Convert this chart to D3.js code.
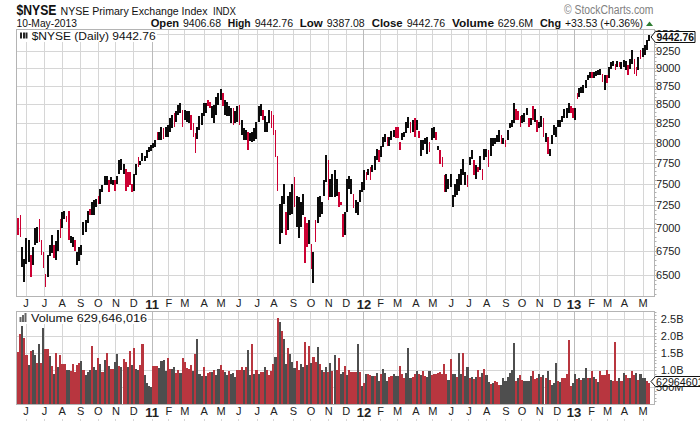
<!DOCTYPE html>
<html>
<head>
<script src="https://cdn.jsdelivr.net/npm/d3@7"></script>
<style>
	html, body { padding: 0; margin: 0; background: #fff; }
	svg { display: block; font-family: "Liberation Sans", Arial, sans-serif; }
	.axis path { display: none; }
</style>
</head>
<body>
<script>
var highs = [
	7110,7140,6790,6660,6890,6860,6700,6790,6990,7010,
	7090,6860,6740,6510,6700,6810,6915,6810,6850,6970,
	7090,7170,7190,7130,7190,6910,6895,6860,6740,6790,
	6810,7060,7080,7190,7210,7290,7305,7320,7360,7440,
	7480,7590,7590,7540,7580,7540,7545,7590,7790,7800,
	7735,7680,7640,7640,7500,7620,7735,7820,7775,7875,
	7830,7910,7950,7970,8000,8040,8135,8140,8205,8185,
	8205,8230,8315,8360,8380,8405,8490,8520,8425,8425,
	8405,8405,8360,8250,8120,8205,8340,8380,8515,8520,
	8560,8535,8470,8490,8600,8645,8710,8645,8560,8535,
	8470,8450,8450,8405,8470,8490,8295,8185,8160,8130,
	8120,8140,8185,8270,8470,8505,8425,8340,8270,8425,
	8405,8360,8160,7830,7270,7360,7500,7175,7360,7400,
	7500,7580,7360,7345,7290,7380,7115,7045,7080,6825,
	6740,7080,7345,7360,7290,7540,7845,7785,7555,7620,
	7660,7555,7400,7290,7150,7175,7555,7590,7560,7385,
	7310,7290,7425,7520,7660,7640,7680,7700,7720,7840,
	7925,7905,7965,8075,8105,8075,8075,8155,8165,8205,
	8205,8010,8120,8140,8270,8330,8270,8295,8315,8295,
	8155,8030,8030,8055,8075,8010,8185,8205,8140,7955,
	7905,7820,7600,7620,7560,7620,7365,7500,7560,7620,
	7680,7800,7640,7600,7820,7905,7780,7720,7700,7840,
	7680,7925,7925,7905,8055,8055,8055,8095,8165,8095,
	8065,8030,8165,8250,8295,8520,8430,8410,8340,8360,
	8385,8450,8315,8315,8480,8430,8295,8270,8340,8315,
	8120,8075,7925,8095,8230,8205,8295,8295,8340,8430,
	8450,8520,8470,8450,8450,8645,8715,8735,8760,8830,
	8900,8945,8945,8945,8955,8965,8990,8920,8900,8900,
	9015,9085,9095,9060,9095,9085,9085,9110,9095,9040,
	9130,9255,9130,9015,9155,9255,9280,9330,9410,9475
];
var lows = [
	6915,6900,6580,6430,6610,6630,6480,6600,6810,6830,
	6840,6700,6570,6370,6480,6690,6720,6670,6650,6750,
	6890,6990,7100,7060,6860,6830,6790,6750,6600,6640,
	6700,6915,6950,7050,7140,7140,7140,7230,7270,7270,
	7400,7480,7480,7400,7500,7480,7420,7500,7620,7660,
	7620,7420,7460,7480,7400,7420,7600,7700,7720,7775,
	7775,7815,7890,7900,7930,7950,8030,8030,8030,8050,
	8075,8075,8140,8185,8205,8270,8360,8380,8205,8295,
	8270,8250,8160,8075,7870,8050,8160,8230,8340,8380,
	8470,8450,8315,8250,8360,8490,8560,8470,8360,8340,
	8340,8250,8230,8250,8270,8230,8095,8030,8030,7910,
	8020,8010,8020,8050,8270,8340,8295,8140,8140,8250,
	8185,8095,7820,7420,6825,6935,7270,6915,6970,7140,
	7150,7230,7010,6890,7010,7140,6620,6790,6825,6560,
	6410,6840,7045,7115,7150,7360,7520,7305,7345,7345,
	7345,7360,7230,7250,6895,6915,7175,7440,7385,7215,
	7160,7145,7290,7405,7425,7540,7600,7540,7640,7660,
	7780,7760,7820,7945,8010,7965,7965,8030,8075,8055,
	8055,7905,8030,8075,8120,8185,8120,8140,8075,8165,
	8055,7840,7905,7990,7860,7885,8030,8055,8030,7905,
	7735,7700,7400,7400,7440,7460,7225,7345,7365,7420,
	7480,7600,7480,7460,7720,7800,7600,7560,7640,7660,
	7540,7780,7820,7700,7840,7965,7990,8010,8010,7990,
	7990,7945,8030,8185,8205,8250,8295,8295,8205,8250,
	8270,8360,8205,8230,8295,8270,8140,8185,8205,8075,
	8010,7860,7830,7990,8095,8075,8205,8205,8270,8315,
	8315,8385,8385,8315,8295,8570,8600,8645,8645,8715,
	8830,8855,8855,8855,8885,8900,8900,8805,8695,8785,
	8855,8990,9025,8965,9015,9015,8990,9015,8965,8900,
	8990,9060,8920,8885,8965,9130,9155,9185,9260,9385
];
var downBars = [
	0,1,6,10,11,12,13,17,20,23,24,27,34,38,43,46,51,52,53,54,57,66,69,74,78,
	82,83,84,90,91,97,102,105,109,116,120,121,122,123,127,131,136,137,139,141,
	147,152,153,154,159,165,167,171,175,179,180,181,186,188,190,195,198,200,
	201,202,213,216,218,220,223,229,231,236,237,238,242,244,246,249,251,262,
	263,265,272,277,279,283,285,289,292,293,295
];

// volume in millions, colour per bar: r = down session, k = up session
var volumes = [
	1520,2050,2290,1950,1440,1150,1570,1590,1450,1200,
	1780,1200,2230,1610,1610,1410,1120,900,1500,1080,
	1440,1170,1190,1000,1020,980,1170,950,1150,1210,
	1260,1000,870,950,1000,1720,1100,1020,1350,1170,
	960,1310,1500,1130,1040,1050,1240,1480,1130,1080,
	1340,1240,1090,1570,1150,1640,1050,1020,1150,1770,
	850,630,540,510,1110,1120,1120,1060,1270,1310,
	980,1370,1050,1030,1090,910,1020,930,1350,1250,
	1070,1030,1160,990,1460,1900,900,820,1100,830,
	930,950,960,1000,870,1030,1150,1020,940,860,
	970,880,920,790,1000,1020,1080,1000,1100,1600,
	860,1770,900,1010,900,950,950,1090,1000,850,
	980,1190,1390,2530,2400,2150,1900,1180,1640,1480,
	1250,1070,1270,1000,1180,1080,1810,1150,1710,1200,
	1390,1250,1670,1190,1010,940,1080,960,1200,970,
	1450,1000,1360,900,950,1130,860,1000,960,960,
	940,1770,950,540,620,880,880,870,840,830,
	920,700,890,1030,920,700,800,820,900,830,
	820,1130,900,770,930,1640,780,800,880,980,
	880,850,970,820,800,980,850,880,880,930,
	950,900,1170,880,720,1340,880,880,800,1510,
	880,1490,820,1090,760,800,750,800,1000,800,
	930,1030,860,650,600,640,700,660,560,560,
	760,700,790,910,1000,1800,700,760,860,720,
	680,680,700,820,970,740,770,880,800,860,
	760,980,720,560,640,1200,680,660,780,780,
	880,1880,530,620,880,750,760,720,760,1070,
	760,760,980,800,740,660,980,870,870,1000,
	880,720,700,1830,700,780,700,920,860,770,
	780,980,860,910,720,900,760,780,700,630
];
var volumeColors =
	"rrkrrkrkkr" + "krkrrkrkrk" + "rrrkkrrrrr" + "krkkkrkkrk" + "rkrkrrkkrk" +
	"rrkrkrkkrr" + "kkkkrrrkkk" + "krrkkrrkrr" + "rrrkrkkkrk" + "rrkrkkrrkk" +
	"rkkkrrrkrk" + "krkrkrrkrr" + "rrkrkrkkrk" + "kkrrkkrkrk" + "rrkrkrkrkr" +
	"krrkkrkrrr" + "rkrkrkrrkr" + "kkrkkkrrkk" + "krrrkkkrrk" + "rkrrkkrrrr" +
	"rrrrkrkkrk" + "krkkrkrkrr" + "krkkrkrrrk" + "kkkkkkrkrr" + "kkkkrrrkrk" +
	"rkrkkkrkrr" + "rrrkkrkrkk" + "rkrkrkrrrr" + "rkrrrkrkrr" + "krrkrkkkrr";

var priceTicks = [6500,6750,7000,7250,7500,7750,8000,8250,8500,8750,9000,9250,9500];
var volumeTicks = [500,1000,1500,2000,2500];
var volumeTickLabels = ["500M","1.0B","1.5B","2.0B","2.5B"];

// trading sessions in each month, Jun 2010 to Apr 2013
var monthSessions = [22,21,22,21,21,21,22, 20,19,23,20,21,22,20,23,21,21,21,21, 20,20,22,20,22,21,21,23,19,21,21,20, 21,19,20,22];
var monthLabels = ["J","J","A","S","O","N","D","11","F","M","A","M","J","J","A","S","O","N","D","12","F","M","A","M","J","J","A","S","O","N","D","13","F","M","A","M"];

var width = 700, height = 421;
var left = 16.5, right = 654.5;
var priceTop = 29.5, priceBottom = 296.5;
var volTop = 311.5, volBottom = 404.5;

var svg = d3.select("body").append("svg")
	.attr("width", width)
	.attr("height", height);

var monthStarts = [0].concat(Array.from(d3.cumsum(monthSessions)));
var xMonth = d3.scaleLinear().domain([0, 734]).range([25.5, 642.5]);
var xBar = d3.scaleBand().domain(d3.range(highs.length)).range([17, 650]);
var xVol = d3.scaleBand().domain(d3.range(volumes.length)).range([17, 650]);

var y = d3.scaleLog().domain([6280, 9561]).range([priceBottom, priceTop]);
var yVol = d3.scaleLinear().domain([0, 2714]).range([volBottom, volTop]);

var gridColor = "#d6d6d6", frameColor = "#b4b4b4";

function drawMonths(top, bottom) {
	var axis = d3.axisBottom(xMonth)
		.tickValues(monthStarts)
		.tickSize(0)
		.tickPadding(3)
		.tickFormat(function(d, i) { return monthLabels[i]; });
	var g = svg.append("g")
		.attr("class", "axis")
		.attr("transform", "translate(0," + bottom + ")")
		.call(axis);
	g.selectAll("text")
		.attr("fill", "#222")
		.style("font-size", function(d, i) { return monthLabels[i].length > 1 ? "13px" : "11px"; })
		.style("font-weight", function(d, i) { return monthLabels[i].length > 1 ? "bold" : "normal"; });
	svg.append("g").selectAll("line")
		.data(monthStarts)
		.join("line")
		.attr("x1", function(d) { return Math.round(xMonth(d)) + 0.5; })
		.attr("x2", function(d) { return Math.round(xMonth(d)) + 0.5; })
		.attr("y1", top)
		.attr("y2", bottom)
		.attr("stroke", function(d, i) { return monthLabels[i].length > 1 ? "#bbbbbb" : gridColor; });
}

function drawRight(scale, ticks, labels, endAnchorAt, minorStep, minorStart) {
	svg.append("g").selectAll("line")
		.data(ticks)
		.join("line")
		.attr("x1", left)
		.attr("x2", right)
		.attr("y1", function(d) { return Math.round(scale(d)) + 0.5; })
		.attr("y2", function(d) { return Math.round(scale(d)) + 0.5; })
		.attr("stroke", gridColor);
	var axis = d3.axisRight(scale)
		.tickValues(ticks)
		.tickSize(0)
		.tickPadding(endAnchorAt)
		.tickFormat(function(d, i) { return labels ? labels[i] : d; });
	svg.append("g")
		.attr("class", "axis")
		.attr("transform", "translate(" + right + ",0)")
		.call(axis)
		.selectAll("text")
		.attr("fill", "#222")
		.attr("text-anchor", "end")
		.style("font-size", "11px");
	// small ticks on the right edge
	var minor = d3.range(minorStart, scale.domain()[1], minorStep);
	svg.append("g").selectAll("line")
		.data(minor)
		.join("line")
		.attr("x1", right)
		.attr("x2", right + 2)
		.attr("y1", function(d) { return Math.round(scale(d)) + 0.5; })
		.attr("y2", function(d) { return Math.round(scale(d)) + 0.5; })
		.attr("stroke", "#b0b0b0");
}

//////// PRICE PANEL ////////
drawRight(y, priceTicks, null, 26, 50, 6300);
drawMonths(priceTop, priceBottom);

// captions sit on a white patch that hides the grid
svg.append("rect").attr("x", 17).attr("y", 30).attr("width", 140).attr("height", 12).attr("fill", "#fff");

var isDown = {};
downBars.forEach(function(i) { isDown[i] = true; });

var priceBars = svg.append("g").attr("shape-rendering", "crispEdges").selectAll("rect")
	.data(highs)
	.join("rect")
	.attr("x", function(d, i) { return xBar(i) + (isDown[i] ? 0.4 : 0); })
	.attr("width", function(d, i) { return isDown[i] ? 1.5 : 2; })
	.attr("y", function(d) { return y(d); })
	.attr("height", function(d, i) { return y(lows[i]) - y(d); })
	.attr("fill", function(d, i) { return isDown[i] ? "#cc0033" : "#0c0c0c"; });

// down bars stay visible where they cross the black ones
priceBars.filter(function(d, i) { return isDown[i]; }).raise();

svg.append("rect")
	.attr("x", left).attr("y", priceTop)
	.attr("width", right - left).attr("height", priceBottom - priceTop)
	.attr("fill", "none").attr("stroke", frameColor);

//////// VOLUME PANEL ////////
drawRight(yVol, volumeTicks, volumeTickLabels, 29, 100, 100);
drawMonths(volTop, volBottom);
svg.append("rect").attr("x", 17).attr("y", 312).attr("width", 131).attr("height", 12).attr("fill", "#fff");

// short marks under the last row of month labels
svg.append("g").selectAll("line")
	.data(monthStarts)
	.join("line")
	.attr("x1", function(d) { return Math.round(xMonth(d)) + 0.5; })
	.attr("x2", function(d) { return Math.round(xMonth(d)) + 0.5; })
	.attr("y1", 419)
	.attr("y2", 421)
	.attr("stroke", gridColor);

svg.append("g").attr("shape-rendering", "crispEdges").selectAll("rect")
	.data(volumes)
	.join("rect")
	.attr("x", function(d, i) { return xVol(i); })
	.attr("width", 2.1)
	.attr("y", function(d) { return yVol(d); })
	.attr("height", function(d) { return yVol(0) - yVol(d); })
	.attr("fill", function(d, i) { return volumeColors[i] === "r" ? "#b8363f" : "#4e4e4e"; });

svg.append("rect")
	.attr("x", left).attr("y", volTop)
	.attr("width", right - left).attr("height", volBottom - volTop)
	.attr("fill", "none").attr("stroke", frameColor);

//////// HEADER ////////
function label(x, yPos, text, size, weight, fitWidth, fill, anchor) {
	var t = svg.append("text")
		.attr("x", x).attr("y", yPos)
		.attr("text-anchor", anchor || "start")
		.attr("fill", fill || "#111")
		.style("font-size", size + "px")
		.style("font-weight", weight || "normal")
		.text(text);
	if (fitWidth) t.attr("textLength", fitWidth).attr("lengthAdjust", "spacingAndGlyphs");
	return t;
}

label(16.5, 15, "$NYSE", 14.5, "bold", 40);
label(60.5, 14.5, "NYSE Primary Exchange Index", 11.5, "normal", 147);
label(213, 14.5, "INDX", 10.5, "normal", 23);
label(16.5, 26.7, "10-May-2013", 10.5, "normal", 60.5);
label(150.7, 27, "Open", 11, "bold", 28.5);
label(183, 27, "9406.68", 10.5, "normal", 38);
label(227.7, 27, "High", 11, "bold", 23);
label(254.7, 27, "9442.76", 10.5, "normal", 38.5);
label(299.7, 27, "Low", 11, "bold", 23);
label(326.7, 27, "9387.08", 10.5, "normal", 38);
label(371.7, 27, "Close", 11, "bold", 31);
label(406.7, 27, "9442.76", 10.5, "normal", 38.5);
label(452, 27, "Volume", 11, "bold", 42);
label(497.7, 27, "629.6M", 10.5, "normal", 35.5);
label(540, 27, "Chg", 11, "bold", 21);
label(565, 27, "+33.53 (+0.36%)", 10.5, "normal", 78);
svg.append("path").attr("d", "M646 26L653 26L649.5 21.5Z").attr("fill", "#2e7d32");
label(564, 14, "\u00a9 StockCharts.com", 12, "normal", 89.5, "#808080");

// panel captions with their small icons
label(31.7, 40, "$NYSE (Daily) 9442.76", 10.5, "normal", 124);
svg.append("g").attr("fill", "#222").selectAll("rect")
	.data([20, 23, 25.5])
	.join("rect")
	.attr("x", function(d) { return d; }).attr("y", 32.5)
	.attr("width", 2).attr("height", 6);
label(31, 321.7, "Volume 629,646,016", 10.5, "normal", 116);
svg.append("g").attr("fill", "#666").selectAll("rect")
	.data([[19.5, 5], [22, 7], [24.5, 9]])
	.join("rect")
	.attr("x", function(d) { return d[0]; }).attr("y", function(d) { return 322 - d[1]; })
	.attr("width", 2).attr("height", function(d) { return d[1]; });

//////// LAST VALUE TAGS ////////
svg.append("path")
	.attr("d", "M651 37L655.5 31.5L695 31.5L695 42.5L655.5 42.5Z")
	.attr("fill", "#fff").attr("stroke", "#111");
label(656.5, 41, "9442.76", 11.5, "bold", 37.5);

svg.append("path")
	.attr("d", "M651 381.5L655.5 376.5L701 376.5L701 386.5L655.5 386.5Z")
	.attr("fill", "#fff").attr("stroke", "#111");
label(656, 385.5, "629646016", 10.7);
</script>
</body>
</html>
